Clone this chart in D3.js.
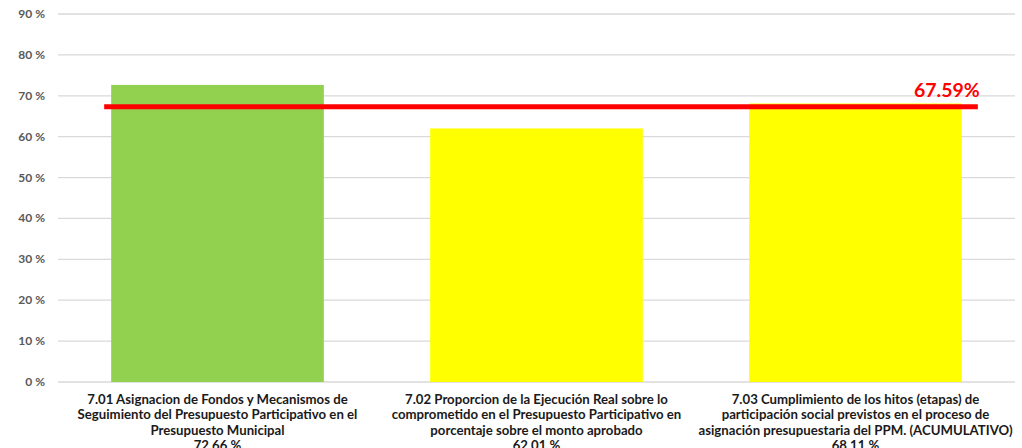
<!DOCTYPE html>
<html><head><meta charset="utf-8">
<script src="https://cdn.jsdelivr.net/npm/d3@7"></script>
<style>body{margin:0;background:#fff}svg{display:block}</style>
</head><body>
<svg id="c" width="1022" height="448"></svg>
<script>
const categories = [
  ["7.01 Asignacion de Fondos y Mecanismos de","Seguimiento del Presupuesto Participativo en el","Presupuesto Municipal","72.66 %"],
  ["7.02 Proporcion de la Ejecución Real sobre lo","comprometido en  el Presupuesto Participativo en","porcentaje sobre el monto aprobado","62.01 %"],
  ["7.03 Cumplimiento de los hitos (etapas) de","participación social previstos en el proceso de","asignación presupuestaria del PPM. (ACUMULATIVO)","68.11 %"]
];
const values = [72.66, 62.01, 68.11];
const barColors = ["#92D050", "#FFFF00", "#FFFF00"];
const yTicks = [0,10,20,30,40,50,60,70,80,90];
const average = 67.59;
const averageLabel = "67.59%";

const svg = d3.select("#c");
const x = d3.scaleBand().domain(d3.range(values.length)).range([58,1015]).paddingInner(1/3).paddingOuter(1/6);
const y = d3.scaleLinear().domain([0,90]).range([382,14]);

svg.append("g").selectAll("line").data(yTicks).join("line")
  .attr("x1",58).attr("x2",1015).attr("y1",d=>y(d)).attr("y2",d=>y(d))
  .attr("stroke","#D9D9D9").attr("stroke-width",1.3);

svg.append("g").selectAll("text").data(yTicks).join("text")
  .attr("x",45).attr("y",d=>y(d)+4).attr("text-anchor","end")
  .attr("font-family","Lato, 'Open Sans', sans-serif").attr("font-weight","bold")
  .attr("font-size",12).attr("fill","#595959").text(d=>d+" %");

svg.append("g").selectAll("rect").data(values).join("rect")
  .attr("x",(d,i)=>x(i)).attr("width",x.bandwidth())
  .attr("y",d=>y(d)).attr("height",d=>y(0)-y(d))
  .attr("fill",(d,i)=>barColors[i]);

// average line
svg.append("line")
  .attr("x1",x(0)-7).attr("x2",x(2)+x.bandwidth()+16)
  .attr("y1",y(average)+1).attr("y2",y(average)+1)
  .attr("stroke","#FF0000").attr("stroke-width",5);
svg.append("text").attr("x",x(2)+x.bandwidth()+18).attr("y",y(average)-9)
  .attr("text-anchor","end").attr("font-family","Lato, 'Open Sans', sans-serif")
  .attr("font-weight","bold").attr("font-size",19.5).attr("fill","#FF0000").text(averageLabel);

const lab = svg.append("g").selectAll("text").data(categories).join("text")
  .attr("text-anchor","middle").attr("font-family","Lato, 'Open Sans', sans-serif")
  .attr("font-weight","bold").attr("font-size",13.2).attr("fill","#1a1a1a");
lab.each(function(lines,i){
  const cx = x(i)+x.bandwidth()/2;
  d3.select(this).selectAll("tspan").data(lines).join("tspan")
    .attr("x",cx).attr("y",(d,j)=>404+j*15.3).text(d=>d);
});
</script>
</body></html>
